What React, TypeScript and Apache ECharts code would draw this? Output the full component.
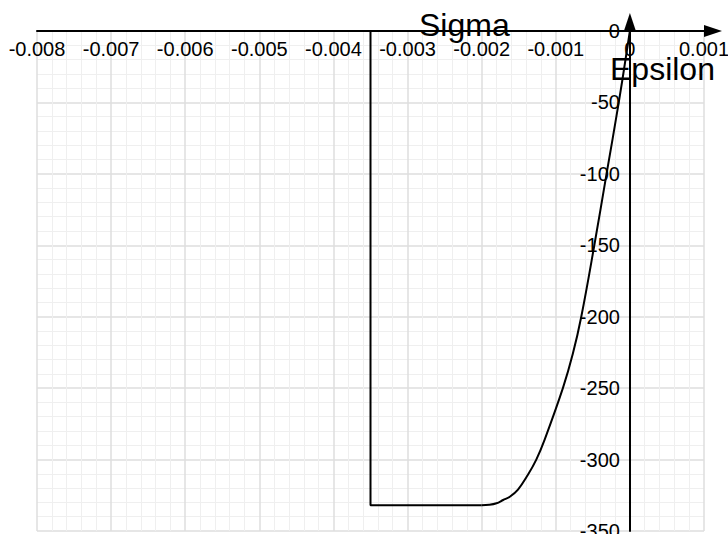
import React, { useEffect, useRef } from "react";
import * as echarts from "echarts";

// Strain axis (Epsilon) and stress axis (Sigma) extents
const epsTicks = { min: -0.008, max: 0.001, interval: 0.001 };
const sigmaTicks = { min: -350, max: 0, interval: 50 };

// Parabolic branch of the stress-strain law
const parabolaEps = [
  0, -0.00015, -0.000315, -0.00048, -0.000656, -0.00077, -0.000904, -0.00115,
  -0.001263, -0.00138, -0.00151, -0.00162, -0.00171, -0.0018, -0.0019, -0.002,
];
const parabolaSigma = [
  0, -50, -100, -150, -200, -226, -250, -286, -300, -311, -321, -326, -328.3,
  -330.6, -331.7, -332,
];

// Constant plateau up to the ultimate strain, then the drop back to zero
const plateauEps = [-0.002, -0.0035, -0.0035];
const plateauSigma = [-332, -332, 0];

const FONT = "'Liberation Sans', Arial, Helvetica, sans-serif";
const W = 728;
const H = 534;
const GRID = { left: 37, right: 24, top: 31, bottom: 3 };

export default function App() {
  const ref = useRef<HTMLDivElement>(null);

  useEffect(() => {
    if (!ref.current) return;
    const chart = echarts.init(ref.current, null, { renderer: "svg" });

    const zip = (xs: number[], ys: number[]) => xs.map((x, i) => [x, ys[i]]);

    // The stress axis sits where strain is zero
    const plotW = W - GRID.left - GRID.right;
    const zeroX =
      (plotW * (0 - epsTicks.min)) / (epsTicks.max - epsTicks.min);

    chart.setOption({
      animation: false,
      backgroundColor: "#ffffff",
      textStyle: { fontFamily: FONT },
      grid: {
        ...GRID,
        containLabel: false,
        outerBoundsMode: "none",
      },
      xAxis: {
        type: "value",
        min: epsTicks.min,
        max: epsTicks.max,
        interval: epsTicks.interval,
        position: "top",
        axisLine: {
          onZero: false,
          symbol: ["none", "triangle"],
          symbolSize: [12, 18],
          symbolOffset: [0, 9],
          lineStyle: { color: "#000000", width: 2 },
        },
        axisTick: { show: false },
        axisLabel: {
          inside: true,
          color: "#000000",
          fontSize: 20,
          fontFamily: FONT,
          margin: 8,
          formatter: (v: number) => String(parseFloat(v.toFixed(4))),
        },
        splitLine: { show: true, lineStyle: { color: "#dedede", width: 1.5 } },
        minorTick: { show: false, splitNumber: 5 },
        minorSplitLine: { show: true, lineStyle: { color: "#efefef", width: 1 } },
      },
      yAxis: {
        type: "value",
        min: sigmaTicks.min,
        max: sigmaTicks.max,
        interval: sigmaTicks.interval,
        position: "left",
        offset: -zeroX,
        axisLine: {
          onZero: false,
          symbol: ["none", "triangle"],
          symbolSize: [12, 18],
          symbolOffset: [0, 9],
          lineStyle: { color: "#000000", width: 2 },
        },
        axisTick: { show: false },
        axisLabel: {
          color: "#000000",
          fontSize: 20,
          fontFamily: FONT,
          margin: 10,
        },
        splitLine: { show: true, lineStyle: { color: "#dedede", width: 1.5 } },
        minorTick: { show: false, splitNumber: 5 },
        minorSplitLine: { show: true, lineStyle: { color: "#efefef", width: 1 } },
      },
      graphic: [
        {
          type: "text",
          left: 419,
          top: 9,
          style: {
            text: "Sigma",
            fill: "#000000",
            font: `32px ${FONT}`,
          },
          z: 100,
        },
        {
          type: "text",
          left: 610,
          top: 53,
          style: {
            text: "Epsilon",
            fill: "#000000",
            font: `32px ${FONT}`,
          },
          z: 100,
        },
      ],
      series: [
        {
          type: "line",
          data: zip(parabolaEps, parabolaSigma),
          smooth: 0.4,
          showSymbol: false,
          lineStyle: { color: "#000000", width: 2 },
        },
        {
          type: "line",
          data: zip(plateauEps, plateauSigma),
          showSymbol: false,
          lineStyle: { color: "#000000", width: 2 },
        },
      ],
    });

    return () => chart.dispose();
  }, []);

  return (
    <div
      ref={ref}
      style={{ position: "fixed", left: 0, top: 0, width: W, height: H }}
    />
  );
}
